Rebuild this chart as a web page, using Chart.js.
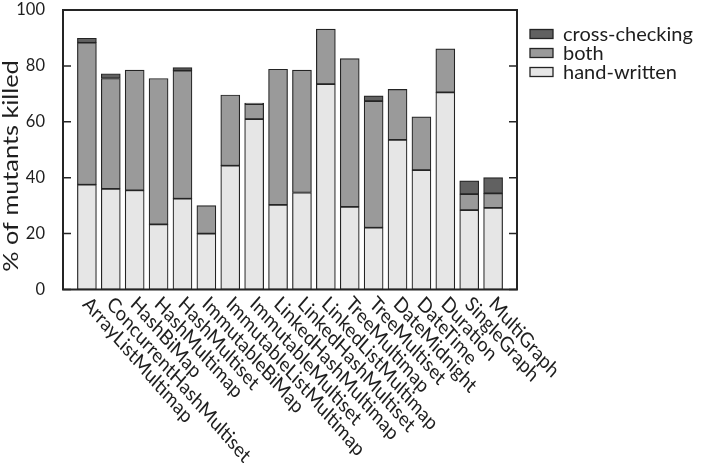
<!DOCTYPE html>
<html>
<head>
<meta charset="utf-8">
<script src="https://cdn.jsdelivr.net/npm/chart.js@4/dist/chart.umd.min.js"></script>
<style>
  html, body { margin: 0; padding: 0; background: #ffffff; }
  #wrap { width: 708px; height: 465px; position: relative; }
</style>
</head>
<body>
<div id="wrap"><canvas id="c" width="708" height="465"></canvas></div>
<script>
const categories = [
  'ArrayListMultimap', 'ConcurrentHashMultiset', 'HashBiMap', 'HashMultimap',
  'HashMultiset', 'ImmutableBiMap', 'ImmutableListMultimap', 'ImmutableMultiset',
  'LinkedHashMultimap', 'LinkedHashMultiset', 'LinkedListMultimap', 'TreeMultimap',
  'TreeMultiset', 'DateMidnight', 'DateTime', 'Duration', 'SingleGraph', 'MultiGraph'
];
const handWritten   = [37.5, 36.0, 35.5, 23.3, 32.5, 20.0, 44.3, 61.0, 30.3, 34.7, 73.5, 29.6, 22.1, 53.5, 42.7, 70.5, 28.4, 29.2];
const both          = [50.8, 39.5, 43.0, 52.2, 45.8, 10.0, 25.3,  5.3, 48.5, 43.8, 19.7, 53.0, 45.3, 18.1, 19.1, 15.6,  5.7,  5.2];
const crossChecking = [ 1.6,  1.7, null, null,  1.1, null, null,  0.4, null, null, null, null,  1.9, null, null, null,  4.8,  5.6];
const yTicks = [0, 20, 40, 60, 80, 100];
const seriesNames = ['cross-checking', 'both', 'hand-written'];

const colors = { cross: '#616161', both: '#9a9a9a', hand: '#e6e6e6', line: '#242424' };
const FONT = 'Lato, "Noto Sans", sans-serif';
const STRETCH = 1.15;

// blank slot at each end so the bars sit one slot in from the frame
const pad = arr => [null, ...arr, null];
const labels = ['', ...categories, ''];

const decorPlugin = {
  id: 'decor',
  afterDatasetsDraw(chart) {
    const ctx = chart.ctx;
    const a = chart.chartArea;
    const ys = chart.scales.y, xs = chart.scales.x;
    ctx.save();
    // frame
    ctx.strokeStyle = colors.line;
    ctx.lineWidth = 2;
    ctx.strokeRect(a.left, a.top, a.right - a.left, a.bottom - a.top);
    // inward ticks on both sides
    ctx.lineWidth = 1.5;
    yTicks.forEach(v => {
      const y = ys.getPixelForValue(v);
      ctx.beginPath();
      ctx.moveTo(a.left, y); ctx.lineTo(a.left + 8, y);
      ctx.moveTo(a.right, y); ctx.lineTo(a.right - 8, y);
      ctx.stroke();
    });
    // rotated category labels
    ctx.fillStyle = '#1e1e1e';
    ctx.font = '18px ' + FONT;
    ctx.textAlign = 'left';
    ctx.textBaseline = 'middle';
    categories.forEach((lab, i) => {
      const x = xs.getPixelForValue(i + 1);
      ctx.save();
      ctx.translate(x - 1, a.bottom + 11);
      ctx.scale(1, STRETCH);
      ctx.rotate(Math.PI / 4);
      ctx.fillText(lab, 0, 0);
      ctx.restore();
    });
    // y axis title
    ctx.save();
    ctx.font = '22px ' + FONT;
    ctx.textAlign = 'center';
    ctx.textBaseline = 'middle';
    ctx.translate(10.5, 166);
    ctx.scale(1, STRETCH);
    ctx.rotate(-Math.PI / 2);
    ctx.fillText('% of mutants killed', 0, 0);
    ctx.restore();
    // legend
    const fills = [colors.cross, colors.both, colors.hand];
    const rows = [34, 53, 72];
    ctx.font = '20px ' + FONT;
    ctx.textAlign = 'left';
    ctx.textBaseline = 'middle';
    seriesNames.forEach((name, i) => {
      const cy = rows[i];
      ctx.fillStyle = fills[i];
      ctx.fillRect(530, cy - 4.5, 23, 9);
      ctx.strokeStyle = colors.line;
      ctx.lineWidth = 1.3;
      ctx.strokeRect(530, cy - 4.5, 23, 9);
      ctx.fillStyle = '#1e1e1e';
      ctx.fillText(name, 563, cy + 1);
    });
    ctx.restore();
  }
};

const common = { borderColor: colors.line, borderWidth: 1.2, borderSkipped: false, barThickness: 19 };

new Chart(document.getElementById('c'), {
  type: 'bar',
  data: {
    labels: labels,
    datasets: [
      Object.assign({ label: 'hand-written', data: pad(handWritten), backgroundColor: colors.hand }, common),
      Object.assign({ label: 'both', data: pad(both), backgroundColor: colors.both }, common),
      Object.assign({ label: 'cross-checking', data: pad(crossChecking), backgroundColor: colors.cross }, common)
    ]
  },
  options: {
    responsive: false,
    animation: false,
    layout: { autoPadding: false, padding: { left: 0, top: 10, right: 191, bottom: 0 } },
    plugins: { legend: { display: false }, tooltip: { enabled: false } },
    scales: {
      x: {
        stacked: true,
        offset: false,
        grid: { display: false },
        border: { display: false },
        ticks: { display: false },
        afterFit: s => { s.height = 175.5; s.paddingLeft = 0; s.paddingRight = 0; }
      },
      y: {
        stacked: true,
        min: 0, max: 100,
        grid: { display: false },
        border: { display: false },
        ticks: { stepSize: 20, padding: 10, color: '#1e1e1e', font: { family: FONT, size: 16.5 } },
        afterFit: s => { s.width = 63; s.paddingTop = 0; s.paddingBottom = 0; }
      }
    }
  },
  plugins: [decorPlugin]
});
</script>
</body>
</html>
